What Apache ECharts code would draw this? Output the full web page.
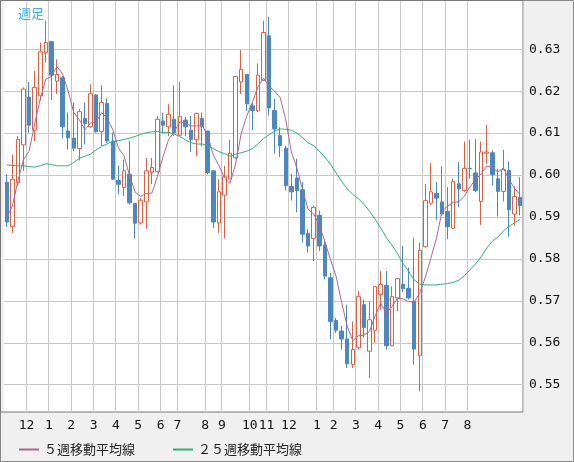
<!DOCTYPE html>
<html>
<head>
<meta charset="utf-8" />
<title>週足</title>
<script src="https://cdn.jsdelivr.net/npm/echarts@6/dist/echarts.min.js"></script>
<style>
  html, body { margin: 0; padding: 0; background: #f0f0f0; }
  #main { width: 574px; height: 462px; }
</style>
</head>
<body>
<div id="main"></div>
<script>
// 週足 ローソク足 [始値, 終値, 安値, 高値]
var candles = [
  [0.5983,0.5888,0.5876,0.6002],[0.5877,0.5990,0.5862,0.6049],[0.5982,0.6085,0.5974,0.6093],
  [0.6072,0.6205,0.6010,0.6209],[0.6186,0.6119,0.6101,0.6222],[0.6107,0.6209,0.6081,0.6248],
  [0.6189,0.6294,0.6177,0.6316],[0.6292,0.6316,0.6268,0.6368],[0.6318,0.6238,0.6179,0.6320],
  [0.6224,0.6240,0.6193,0.6276],[0.6232,0.6115,0.6087,0.6236],[0.6105,0.6089,0.6061,0.6149],
  [0.6088,0.6064,0.6057,0.6173],[0.6063,0.6151,0.6035,0.6157],[0.6135,0.6123,0.6073,0.6173],
  [0.6115,0.6194,0.6113,0.6216],[0.6191,0.6103,0.6101,0.6193],[0.6104,0.6173,0.6069,0.6214],
  [0.6171,0.6081,0.6077,0.6183],[0.6081,0.5990,0.5988,0.6101],[0.5987,0.5978,0.5954,0.6022],
  [0.5970,0.6010,0.5950,0.6037],[0.6002,0.5934,0.5930,0.6081],[0.5932,0.5885,0.5849,0.5932],
  [0.5886,0.5940,0.5882,0.5946],[0.5936,0.6010,0.5872,0.6041],[0.6006,0.6018,0.5978,0.6041],
  [0.6008,0.6133,0.6006,0.6141],[0.6129,0.6119,0.6101,0.6149],[0.6115,0.6145,0.6093,0.6169],
  [0.6133,0.6101,0.6093,0.6214],[0.6095,0.6139,0.6092,0.6222],[0.6131,0.6115,0.6093,0.6139],
  [0.6107,0.6085,0.6055,0.6141],[0.6084,0.6147,0.6045,0.6149],[0.6135,0.6115,0.6069,0.6149],
  [0.6105,0.6006,0.6002,0.6105],[0.6010,0.5888,0.5874,0.6010],[0.5886,0.5960,0.5862,0.5990],
  [0.5952,0.5996,0.5849,0.6022],[0.5991,0.6052,0.5990,0.6084],[0.6041,0.6235,0.6039,0.6236],
  [0.6222,0.6252,0.6193,0.6298],[0.6240,0.6170,0.6153,0.6240],[0.6165,0.6154,0.6107,0.6173],
  [0.6153,0.6238,0.6150,0.6266],[0.6226,0.6340,0.6224,0.6368],[0.6332,0.6160,0.6142,0.6377],
  [0.6154,0.6110,0.6051,0.6182],[0.6094,0.6070,0.6043,0.6114],[0.6064,0.5975,0.5963,0.6070],
  [0.5973,0.5960,0.5939,0.6003],[0.5993,0.5963,0.5911,0.6039],[0.5965,0.5859,0.5839,0.5983],
  [0.5861,0.5831,0.5815,0.5871],[0.5849,0.5923,0.5795,0.5928],[0.5904,0.5831,0.5819,0.5915],
  [0.5833,0.5759,0.5751,0.5847],[0.5755,0.5651,0.5608,0.5767],[0.5653,0.5630,0.5624,0.5659],
  [0.5628,0.5609,0.5584,0.5640],[0.5609,0.5550,0.5540,0.5691],[0.5548,0.5584,0.5540,0.5651],
  [0.5588,0.5710,0.5584,0.5723],[0.5691,0.5636,0.5612,0.5703],[0.5580,0.5655,0.5516,0.5699],
  [0.5630,0.5734,0.5600,0.5735],[0.5715,0.5739,0.5679,0.5771],[0.5737,0.5593,0.5584,0.5771],
  [0.5593,0.5710,0.5592,0.5735],[0.5707,0.5753,0.5675,0.5755],[0.5739,0.5729,0.5721,0.5831],
  [0.5730,0.5707,0.5703,0.5779],[0.5699,0.5585,0.5548,0.5851],[0.5570,0.5821,0.5484,0.5839],
  [0.5829,0.5939,0.5827,0.5979],[0.5933,0.5960,0.5928,0.6029],[0.5956,0.5945,0.5893,0.5983],
  [0.5936,0.5907,0.5903,0.6021],[0.5913,0.5877,0.5847,0.5971],[0.5873,0.5984,0.5871,0.5991],
  [0.5979,0.5967,0.5923,0.6031],[0.5963,0.6016,0.5960,0.6080],[0.6016,0.6015,0.5991,0.6084],
  [0.6005,0.5963,0.5959,0.6086],[0.5937,0.6055,0.5881,0.6080],[0.6052,0.6055,0.6027,0.6120],
  [0.6053,0.6001,0.5975,0.6059],[0.5991,0.5961,0.5901,0.6015],[0.5961,0.6013,0.5937,0.6060],
  [0.6011,0.5917,0.5853,0.6032],[0.5907,0.5949,0.5879,0.5973],[0.5947,0.5927,0.5904,0.5995]
];
// 表示範囲より前の週を含むため、先頭は図から読んだ値
var ma5Head = [0.5898, 0.5926, 0.5986, 0.6037];
var ma25Head = [0.6024,0.6023,0.6022,0.6022,0.6020,0.6019,0.6022,0.6027,0.6025,0.6022,0.6022,0.6022,
  0.6030,0.6040,0.6045,0.6050,0.6060,0.6068,0.6075,0.6080,0.6082,0.6085,0.6088,0.6092];
// 月の始まりの週と月ラベル
var monthStart = [4,8,12,16,20,24,28,31,36,39,44,47,51,56,59,63,67,71,75,79,83];
var monthLabel = ['12','1','2','3','4','5','6','7','8','9','10','11','12','1','2','3','4','5','6','7','8'];
var yTicks = [0.55,0.56,0.57,0.58,0.59,0.60,0.61,0.62,0.63];

var cats = candles.map(function(c, i) { return i; });
var labelOf = {};
monthStart.forEach(function(w, i) { labelOf[w] = monthLabel[i]; });

function movingAvg(n, head) {
  return candles.map(function(c, i) {
    if (i < head.length) return head[i];
    var s = 0;
    for (var k = i - n + 1; k <= i; k++) s += candles[k][1];
    return +(s / n).toFixed(4);
  });
}
var ma5 = movingAvg(5, ma5Head);
var ma25 = movingAvg(25, ma25Head);

var chart = echarts.init(document.getElementById('main'));
var isStart = function(idx) { return labelOf[idx] !== undefined; };
chart.setOption({
  backgroundColor: '#f0f0f0',
  animation: false,
  textStyle: { fontFamily: 'DejaVu Sans Mono' },
  title: {
    text: '週足', left: 13, top: 2,
    textStyle: { color: '#3cb4e6', fontSize: 13, fontWeight: 'normal', fontFamily: 'Noto Sans CJK JP' }
  },
  legend: {
    left: 14, top: 438, itemWidth: 20, itemHeight: 2, itemGap: 38,
    icon: 'rect',
    textStyle: { color: '#222', fontSize: 13, fontFamily: 'Noto Sans CJK JP' },
    data: ['５週移動平均線', '２５週移動平均線']
  },
  grid: { left: 4, top: 1, width: 519, height: 411, backgroundColor: '#fff', show: true, borderWidth: 0 },
  xAxis: {
    type: 'category', data: cats, boundaryGap: true,
    axisLine: { show: false }, axisTick: { show: false },
    axisLabel: {
      interval: function(idx) { return isStart(idx); },
      formatter: function(v) { return labelOf[v] || ''; },
      color: '#111', fontSize: 13, margin: 7, hideOverlap: false, padding: [0, 5, 0, 0]
    },
    splitLine: { show: true, interval: function(idx) { return isStart(idx); }, lineStyle: { color: '#c8c8c8' } }
  },
  yAxis: {
    type: 'value', position: 'right', min: 0.5435, max: 0.6415,
    axisLine: { show: false }, axisTick: { show: false },
    axisLabel: { show: false }, splitLine: { show: false }
  },
  graphic: [
    { type: 'rect', shape: { x: 0.5, y: 0.5, width: 573, height: 461 }, style: { fill: 'none', stroke: '#888' }, silent: true },
    { type: 'rect', shape: { x: 0.5, y: 0.5, width: 522.5, height: 411.5 }, style: { fill: 'none', stroke: '#777' }, silent: true }
  ],
  series: [
    {
      type: 'candlestick', data: candles, barWidth: 4,
      itemStyle: { color: '#ffffff', color0: '#4b88c2', borderColor: '#dd6040', borderColor0: '#4b88c2', borderWidth: 1 },
      markLine: {
        silent: true, symbol: 'none', z: 1,
        lineStyle: { color: '#c8c8c8', type: 'solid', width: 1 },
        label: {
          position: 'end', distance: 6, color: '#111', fontSize: 13, fontFamily: 'DejaVu Sans Mono',
          formatter: function(p) { return p.value.toFixed(2); }
        },
        data: yTicks.map(function(t) { return { yAxis: t }; })
      }
    },
    {
      name: '５週移動平均線', type: 'line', data: ma5, symbol: 'none', z: 3,
      lineStyle: { color: '#b5648f', width: 1 }, itemStyle: { color: '#b5648f' }
    },
    {
      name: '２５週移動平均線', type: 'line', data: ma25, symbol: 'none', z: 3,
      lineStyle: { color: '#2eb073', width: 1 }, itemStyle: { color: '#2eb073' }
    }
  ]
});
</script>
</body>
</html>
